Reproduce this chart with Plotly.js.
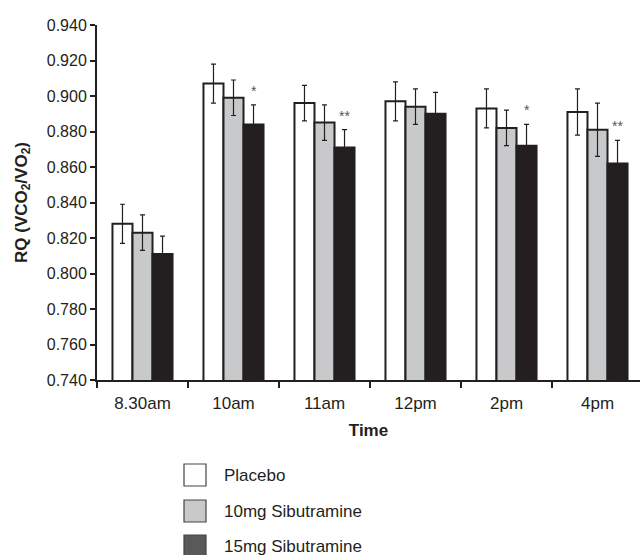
<!DOCTYPE html>
<html>
<head>
<meta charset="utf-8">
<script src="https://cdn.plot.ly/plotly-3.0.1.min.js"></script>
<style>html,body{margin:0;padding:0;background:#fff;}#chart{width:640px;height:555px;}</style>
</head>
<body>
<div id="chart"></div>
<script>
var times = ['8.30am', '10am', '11am', '12pm', '2pm', '4pm'];
var seriesNames = ['Placebo', '10mg Sibutramine', '15mg Sibutramine'];
var placebo = [0.828, 0.907, 0.896, 0.897, 0.893, 0.891];
var placeboErr = [0.011, 0.011, 0.010, 0.011, 0.011, 0.013];
var sib10 = [0.823, 0.899, 0.885, 0.894, 0.882, 0.881];
var sib10Err = [0.010, 0.010, 0.010, 0.010, 0.010, 0.015];
var sib15 = [0.811, 0.884, 0.871, 0.890, 0.872, 0.862];
var sib15Err = [0.010, 0.011, 0.010, 0.012, 0.012, 0.013];
var sig15 = ['', '*', '**', '', '*', '**'];

var ink = '#231f20';
var fills = ['#ffffff', '#c8c9cb', '#231f20'];
var legendFills = ['#ffffff', '#c8c9cb', '#58595b'];

var W = 640, H = 555, mL = 97, mR = 0, mT = 25, mB = 175;
var pw = W - mL - mR, ph = H - mT - mB;
function px(x) { return (x - mL) / pw; }
function py(y) { return (H - mB - y) / ph; }

var vals = [placebo, sib10, sib15];
var errs = [placeboErr, sib10Err, sib15Err];
var traces = vals.map(function (v, k) {
  return {
    type: 'bar', x: times, y: v, name: seriesNames[k],
    marker: { color: fills[k], line: { color: ink, width: 2 } },
    error_y: { type: 'data', array: errs[k], visible: true, color: ink, thickness: 1.2, width: 2.5 },
    showlegend: false
  };
});

var annotations = [];
sig15.forEach(function (s, i) {
  if (s) {
    annotations.push({
      x: i + 0.22, y: sib15[i] + sib15Err[i], xref: 'x', yref: 'y',
      text: s, showarrow: false, yanchor: 'bottom', yshift: 4,
      font: { family: 'Liberation Sans, Arial, sans-serif', size: 14, color: '#555' }
    });
  }
});

var shapes = [];
var legY = [475, 511, 546];
seriesNames.forEach(function (n, k) {
  shapes.push({
    type: 'rect', xref: 'paper', yref: 'paper',
    x0: px(184), x1: px(206), y0: py(legY[k] + 11), y1: py(legY[k] - 11),
    fillcolor: legendFills[k], line: { color: '#444', width: 1.2 }
  });
  annotations.push({
    xref: 'paper', yref: 'paper', x: px(222), y: py(legY[k]),
    xanchor: 'left', yanchor: 'middle', text: n, showarrow: false,
    font: { family: 'Liberation Sans, Arial, sans-serif', size: 17, color: ink }
  });
});

var layout = {
  width: W, height: H,
  margin: { l: mL, r: mR, t: mT, b: mB },
  paper_bgcolor: '#fff', plot_bgcolor: '#fff',
  font: { family: 'Liberation Sans, Arial, sans-serif', color: ink },
  barmode: 'group', bargap: 0.34, bargroupgap: 0,
  xaxis: {
    type: 'category', range: [-0.5, 5.467],
    showline: true, linecolor: ink, linewidth: 2,
    ticks: 'outside', tickson: 'boundaries', ticklen: 6, tickwidth: 2, tickcolor: ink,
    ticklabelstandoff: 7,
    showgrid: false, zeroline: false,
    tickfont: { size: 17, color: ink },
    title: { text: '<b>Time</b>', font: { size: 17, color: ink }, standoff: 12 }
  },
  yaxis: {
    range: [0.74, 0.94], dtick: 0.02, tick0: 0.74, tickformat: '.3f',
    showline: true, linecolor: ink, linewidth: 2,
    ticks: 'outside', ticklen: 5, tickwidth: 2, tickcolor: ink,
    showgrid: false, zeroline: false,
    tickfont: { size: 16, color: ink },
    title: { text: '<b>RQ (VCO<sub>2</sub>/VO<sub>2</sub>)</b>', font: { size: 17, color: ink }, standoff: 15 }
  },
  shapes: shapes,
  annotations: annotations
};

Plotly.newPlot('chart', traces, layout, { staticPlot: true });
</script>
</body>
</html>
